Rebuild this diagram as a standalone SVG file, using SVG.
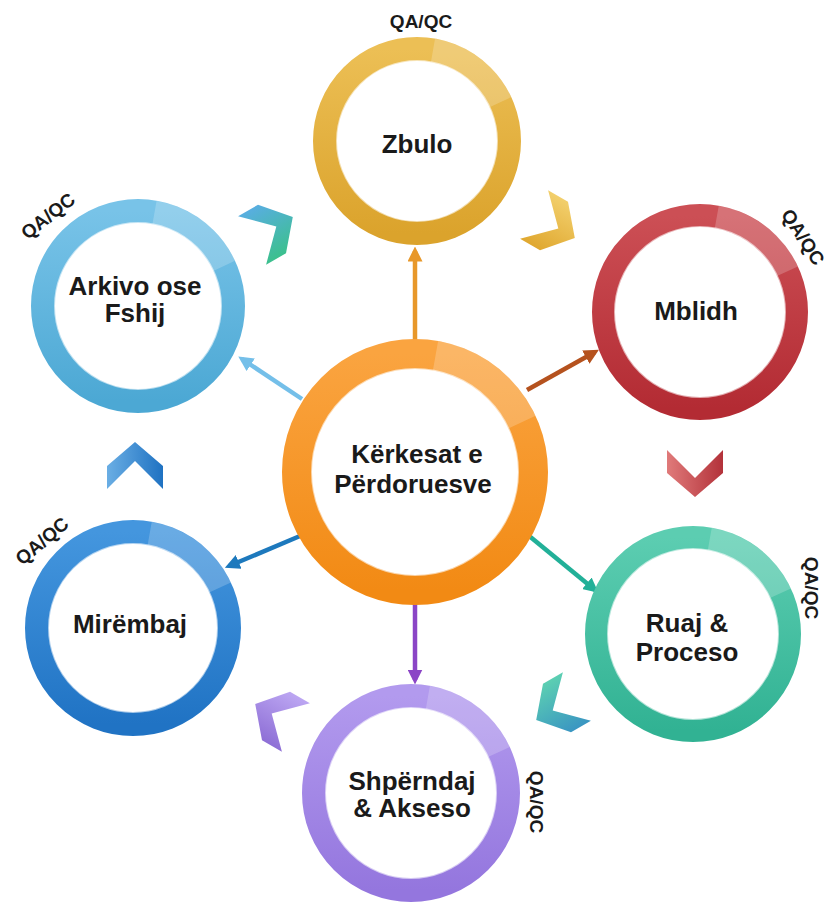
<svg xmlns="http://www.w3.org/2000/svg" width="829" height="903" viewBox="0 0 829 903">
<style>
.hl{fill:none;stroke:#fff;stroke-opacity:.2}
.inner{fill:none;stroke:#fff;stroke-opacity:.6;stroke-width:2}
.lbl{font-family:"Liberation Sans",Arial,sans-serif;font-weight:bold;font-size:26px;fill:#1a1a1a;text-anchor:middle}
.qa{font-family:"Liberation Sans",Arial,sans-serif;font-weight:bold;font-size:19px;fill:#1a1a1a;text-anchor:middle;dominant-baseline:central}
.conn{fill:none;stroke-width:4.5}
</style>
<defs>
<linearGradient id="gGold" x1="0" y1="0" x2="0" y2="1"><stop offset="0" stop-color="#ecbf55"/><stop offset="1" stop-color="#dba32c"/></linearGradient>
<linearGradient id="gRed" x1="0" y1="0" x2="0" y2="1"><stop offset="0" stop-color="#cc4f55"/><stop offset="1" stop-color="#b32b33"/></linearGradient>
<linearGradient id="gTeal" x1="0" y1="0" x2="0" y2="1"><stop offset="0" stop-color="#5ccdb1"/><stop offset="1" stop-color="#31b293"/></linearGradient>
<linearGradient id="gPurp" x1="0" y1="0" x2="0" y2="1"><stop offset="0" stop-color="#b29aee"/><stop offset="1" stop-color="#9476de"/></linearGradient>
<linearGradient id="gBlue" x1="0" y1="0" x2="0" y2="1"><stop offset="0" stop-color="#4496de"/><stop offset="1" stop-color="#2073c4"/></linearGradient>
<linearGradient id="gLBlue" x1="0" y1="0" x2="0" y2="1"><stop offset="0" stop-color="#78c3e8"/><stop offset="1" stop-color="#4ca8d4"/></linearGradient>
<linearGradient id="gOrange" x1="0" y1="0" x2="0" y2="1"><stop offset="0" stop-color="#faa440"/><stop offset="1" stop-color="#f28a14"/></linearGradient>
<linearGradient id="cBG" x1="0" y1="0" x2="1" y2="0"><stop offset="0" stop-color="#58aee0"/><stop offset="1" stop-color="#3cc08e"/></linearGradient>
<linearGradient id="cGold" x1="0" y1="0" x2="1" y2="0"><stop offset="0" stop-color="#f2cf6c"/><stop offset="1" stop-color="#e0a830"/></linearGradient>
<linearGradient id="cRed" x1="0" y1="0" x2="1" y2="0"><stop offset="0" stop-color="#b3323a"/><stop offset="1" stop-color="#e07a7a"/></linearGradient>
<linearGradient id="cTeal" x1="0" y1="0" x2="1" y2="0"><stop offset="0" stop-color="#3a96c2"/><stop offset="1" stop-color="#5ccfb2"/></linearGradient>
<linearGradient id="cPurp" x1="0" y1="0" x2="1" y2="0"><stop offset="0" stop-color="#8e6fd6"/><stop offset="1" stop-color="#bca6f2"/></linearGradient>
<linearGradient id="cBlue" x1="0" y1="0" x2="1" y2="0"><stop offset="0" stop-color="#6aaee4"/><stop offset="1" stop-color="#1f72c2"/></linearGradient>
<path id="chev" d="M0,-24 L28,0 L28,23 L0,-5 L-28,23 L-28,0 Z"/>
<marker id="mOr" viewBox="0 0 10 10" refX="7" refY="5" markerWidth="15" markerHeight="15" markerUnits="userSpaceOnUse" orient="auto"><path d="M0,0 L10,5 L0,10 Z" fill="#e8982a"/></marker>
<marker id="mBr" viewBox="0 0 10 10" refX="7" refY="5" markerWidth="15" markerHeight="15" markerUnits="userSpaceOnUse" orient="auto"><path d="M0,0 L10,5 L0,10 Z" fill="#b5521e"/></marker>
<marker id="mLb" viewBox="0 0 10 10" refX="7" refY="5" markerWidth="15" markerHeight="15" markerUnits="userSpaceOnUse" orient="auto"><path d="M0,0 L10,5 L0,10 Z" fill="#74bfe9"/></marker>
<marker id="mBl" viewBox="0 0 10 10" refX="7" refY="5" markerWidth="15" markerHeight="15" markerUnits="userSpaceOnUse" orient="auto"><path d="M0,0 L10,5 L0,10 Z" fill="#1d79bd"/></marker>
<marker id="mTe" viewBox="0 0 10 10" refX="7" refY="5" markerWidth="15" markerHeight="15" markerUnits="userSpaceOnUse" orient="auto"><path d="M0,0 L10,5 L0,10 Z" fill="#22b098"/></marker>
<marker id="mPu" viewBox="0 0 10 10" refX="7" refY="5" markerWidth="15" markerHeight="15" markerUnits="userSpaceOnUse" orient="auto"><path d="M0,0 L10,5 L0,10 Z" fill="#8b45c6"/></marker>
</defs>
<rect width="829" height="903" fill="#fff"/>

<g id="connectors">
<line class="conn" x1="415" y1="340" x2="415" y2="251" stroke="#e8982a" marker-end="url(#mOr)"/>
<line class="conn" x1="527" y1="390" x2="595" y2="352" stroke="#b5521e" marker-end="url(#mBr)"/>
<line class="conn" x1="302" y1="399" x2="242" y2="359" stroke="#74bfe9" marker-end="url(#mLb)"/>
<line class="conn" x1="300" y1="536" x2="229" y2="566" stroke="#1d79bd" marker-end="url(#mBl)"/>
<line class="conn" x1="528" y1="535" x2="595" y2="590" stroke="#22b098" marker-end="url(#mTe)"/>
<line class="conn" x1="415" y1="604" x2="415" y2="680" stroke="#8b45c6" marker-end="url(#mPu)"/>
</g>

<g id="chevrons">
<use href="#chev" transform="translate(272,229) rotate(60)" fill="url(#cBG)"/>
<use href="#chev" transform="translate(554,226) rotate(120)" fill="url(#cGold)"/>
<use href="#chev" transform="translate(695,473) rotate(180)" fill="url(#cRed)"/>
<use href="#chev" transform="translate(557,708) rotate(240)" fill="url(#cTeal)"/>
<use href="#chev" transform="translate(276,716) rotate(300)" fill="url(#cPurp)"/>
<use href="#chev" transform="translate(135,466)" fill="url(#cBlue)"/>
</g>

<g id="center" transform="translate(415,472)">
<circle r="118" fill="#fff" stroke="url(#gOrange)" stroke-width="30"/>
<circle class="hl" r="118" stroke-width="30" pathLength="360" stroke-dasharray="55 305" transform="rotate(-80)"/>
<circle class="inner" r="103"/>
<text class="lbl" x="2" y="-9">Kërkesat e</text>
<text class="lbl" x="-2" y="21">Përdoruesve</text>
</g>

<g id="zbulo" transform="translate(417,141)">
<circle r="92" fill="#fff" stroke="url(#gGold)" stroke-width="24"/>
<circle class="hl" r="92" stroke-width="24" pathLength="360" stroke-dasharray="55 305" transform="rotate(-80)"/>
<circle class="inner" r="80"/>
<text class="lbl" x="0" y="12">Zbulo</text>
<text class="qa" x="4" y="-120">QA/QC</text>
</g>

<g id="mblidh" transform="translate(700,312)">
<circle r="96.5" fill="#fff" stroke="url(#gRed)" stroke-width="23"/>
<circle class="hl" r="96.5" stroke-width="23" pathLength="360" stroke-dasharray="55 305" transform="rotate(-80)"/>
<circle class="inner" r="85"/>
<text class="lbl" x="-4" y="8">Mblidh</text>
<text class="qa" transform="translate(103,-75) rotate(57)">QA/QC</text>
</g>

<g id="ruaj" transform="translate(693,634)">
<circle r="96.5" fill="#fff" stroke="url(#gTeal)" stroke-width="23"/>
<circle class="hl" r="96.5" stroke-width="23" pathLength="360" stroke-dasharray="55 305" transform="rotate(-80)"/>
<circle class="inner" r="85"/>
<text class="lbl" x="-6" y="-2">Ruaj &amp;</text>
<text class="lbl" x="-6" y="27">Proceso</text>
<text class="qa" transform="translate(118,-46) rotate(90)">QA/QC</text>
</g>

<g id="shperndaj" transform="translate(411,793)">
<circle r="97" fill="#fff" stroke="url(#gPurp)" stroke-width="24"/>
<circle class="hl" r="97" stroke-width="24" pathLength="360" stroke-dasharray="55 305" transform="rotate(-80)"/>
<circle class="inner" r="85"/>
<text class="lbl" x="1" y="-3">Shpërndaj</text>
<text class="lbl" x="1" y="24">&amp; Akseso</text>
<text class="qa" transform="translate(125,9) rotate(90)">QA/QC</text>
</g>

<g id="mirembaj" transform="translate(133,628)">
<circle r="96" fill="#fff" stroke="url(#gBlue)" stroke-width="24"/>
<circle class="hl" r="96" stroke-width="24" pathLength="360" stroke-dasharray="55 305" transform="rotate(-80)"/>
<circle class="inner" r="84"/>
<text class="lbl" x="-3" y="5">Mirëmbaj</text>
<text class="qa" transform="translate(-91,-87) rotate(-40)">QA/QC</text>
</g>

<g id="arkivo" transform="translate(138,306)">
<circle r="95" fill="#fff" stroke="url(#gLBlue)" stroke-width="24"/>
<circle class="hl" r="95" stroke-width="24" pathLength="360" stroke-dasharray="55 305" transform="rotate(-80)"/>
<circle class="inner" r="83"/>
<text class="lbl" x="-3" y="-11">Arkivo ose</text>
<text class="lbl" x="-3" y="16">Fshij</text>
<text class="qa" transform="translate(-90,-90) rotate(-38)">QA/QC</text>
</g>
</svg>
